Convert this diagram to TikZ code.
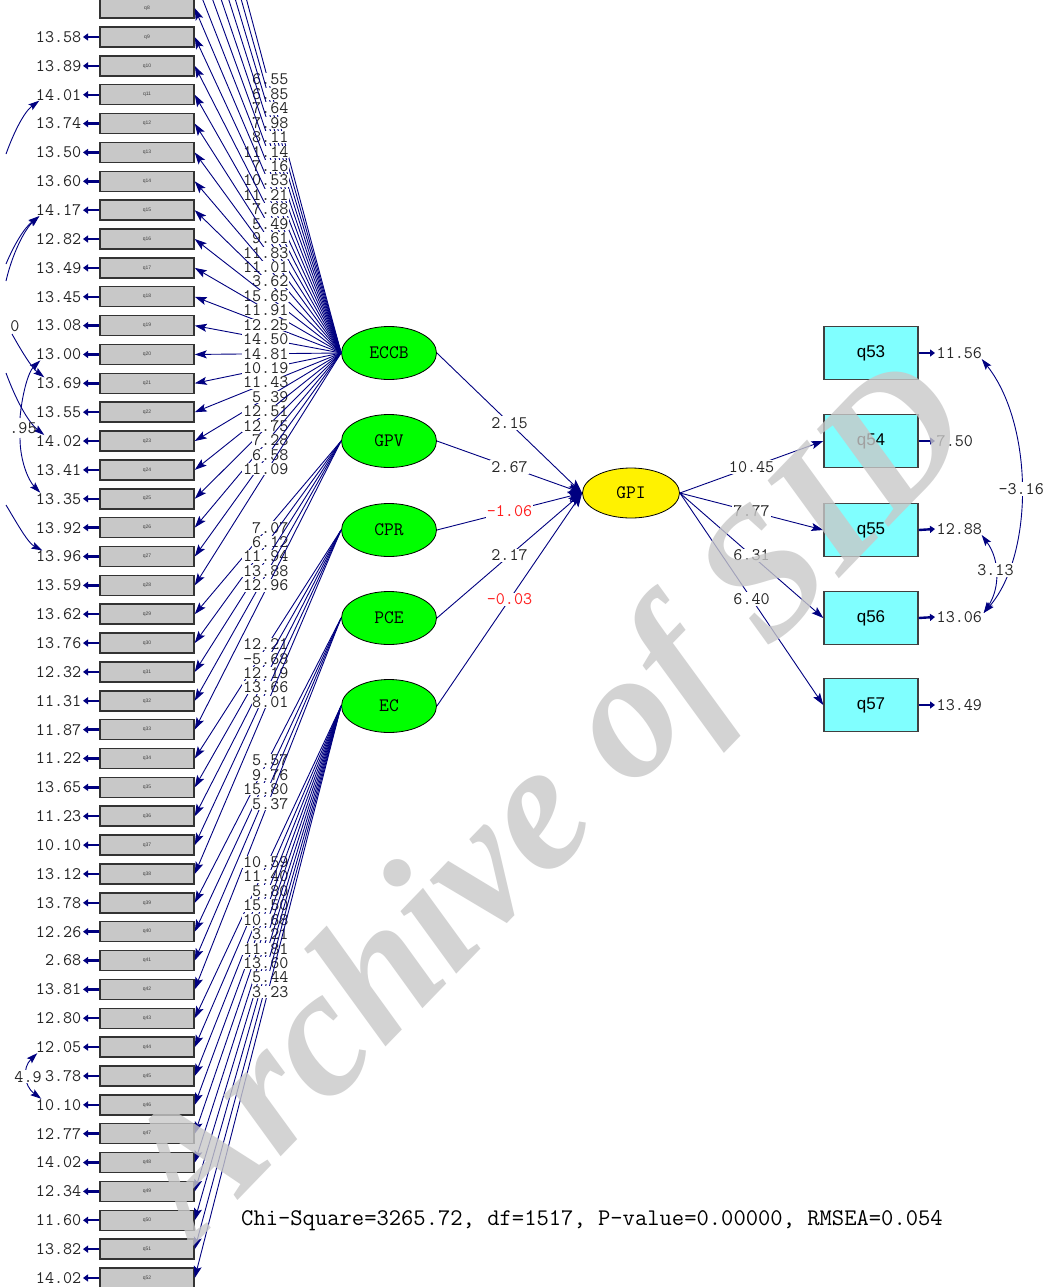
\documentclass[tikz,border=0pt]{standalone}
\usepackage{fontspec}
\setmainfont{Liberation Serif}
\setsansfont{Liberation Sans}
\usetikzlibrary{arrows.meta,shapes.geometric,calc}
\definecolor{navy}{RGB}{0,0,128}
\definecolor{boxgray}{RGB}{200,200,200}
\definecolor{lgreen}{RGB}{0,255,0}
\definecolor{cyanbox}{RGB}{128,255,255}
\definecolor{wmgray}{RGB}{200,200,200}
\definecolor{redval}{RGB}{255,30,30}
\begin{document}
\begin{tikzpicture}[x=1pt,y=-1pt,
  every node/.style={inner sep=0pt},
  obs/.style={draw=black!80, line width=1.5pt, fill=boxgray, minimum width=94pt, minimum height=20pt, inner sep=0pt, font=\fontsize{5}{5}\selectfont\sffamily, text=black!75},
  obsR/.style={draw=black!75, line width=1.4pt, fill=cyanbox, minimum width=94pt, minimum height=53pt, font=\fontsize{17}{17}\selectfont\sffamily},
  lat/.style={ellipse, draw=black, line width=0.8pt, fill=lgreen, minimum width=95pt, minimum height=53pt, font=\fontsize{19}{19}\selectfont\ttfamily},
  val/.style={font=\fontsize{17.6}{18}\selectfont\ttfamily, text=black!85},
  fan/.style={draw=navy, line width=0.9pt, -{Stealth[length=12pt,width=8pt,inset=2.5pt]}},
  flab/.style={val, fill=white, inner sep=0.6pt, anchor=east, xshift=21.5pt, pos=0.5},
  plab/.style={val, fill=white, inner sep=1pt, pos=0.5},
  gpath/.style={draw=navy, line width=0.9pt, -{Stealth[length=14pt,width=10pt,inset=3pt]}},
  errar/.style={draw=navy, line width=2.4pt, -{Triangle[length=5pt,width=7pt]}},
  cov/.style={draw=navy, line width=0.9pt},
  covtip/.style={-{Stealth[length=11pt,width=7pt,inset=2pt]}},
  covtips/.style={{Stealth[length=11pt,width=7pt,inset=2pt]}-{Stealth[length=11pt,width=7pt,inset=2pt]}}
]
\path[use as bounding box] (0,0) rectangle (1048,1287);
\clip (0,0) rectangle (1048,1287);
\fill[white] (0,0) rectangle (1048,1287);

% observed boxes (left)
\foreach \k in {1,...,52} {
  \node[obs] (q\k) at (147,{37+(\k-9)*28.86}) {q\k};
}

% error variances (left)
\foreach \k/\v in {9/13.58,10/13.89,11/14.01,12/13.74,13/13.50,14/13.60,15/14.17,16/12.82,17/13.49,18/13.45,19/13.08,20/13.00,21/13.69,22/13.55,23/14.02,24/13.41,25/13.35,26/13.92,27/13.96,28/13.59,29/13.62,30/13.76,31/12.32,32/11.31,33/11.87,34/11.22,35/13.65,36/11.23,37/10.10,38/13.12,39/13.78,40/12.26,41/2.68,42/13.81,43/12.80,44/12.05,46/10.10,47/12.77,48/14.02,49/12.34,50/11.60,51/13.82,52/14.02} {
  \node[val, anchor=east, inner sep=1.5pt] (e\k) at (83,{37+(\k-9)*28.86}) {\v};
  \draw[errar] (q\k.west) -- (e\k.east);
}

% latent variables
\node[lat] (ECCB) at (389,353) {ECCB};
\node[lat] (GPV) at (389,441) {GPV};
\node[lat] (CPR) at (389,530) {CPR};
\node[lat] (PCE) at (389,618) {PCE};
\node[lat] (EC) at (389,706) {EC};
\node[lat, fill=yellow, minimum width=97pt, minimum height=50pt] (GPI) at (631,493) {GPI};

% loadings
\foreach \k/\v in {1/6.55,2/6.85,3/7.64,4/7.98,5/8.11,6/11.14,7/7.16,8/10.53,9/11.21,10/7.68,11/5.49,12/9.61,13/11.83,14/11.01,15/3.62,16/15.65,17/11.91,18/12.25,19/14.50,20/14.81,21/10.19,22/11.43,23/5.39,24/12.51,25/12.75,26/7.28,27/6.58,28/11.09} {
  \draw[fan] (ECCB.west) -- (q\k.east) node[flab] {\v};
}
\foreach \k/\v in {29/7.07,30/6.12,31/11.94,32/13.88,33/12.96} {
  \draw[fan] (GPV.west) -- (q\k.east) node[flab] {\v};
}
\foreach \k/\v in {34/12.21,35/-5.68,36/12.19,37/13.66,38/8.01} {
  \draw[fan] (CPR.west) -- (q\k.east) node[flab] {\v};
}
\foreach \k/\v in {39/5.57,40/9.76,41/15.80,42/5.37} {
  \draw[fan] (PCE.west) -- (q\k.east) node[flab] {\v};
}
\foreach \k/\v in {43/10.59,44/11.40,45/5.80,46/15.50,47/10.68,48/3.21,49/11.81,50/13.60,51/5.44,52/3.23} {
  \draw[fan] (EC.west) -- (q\k.east) node[flab] {\v};
}

% structural paths
\draw[gpath] (ECCB.east) -- (GPI.west) node[plab] {2.15};
\draw[gpath] (GPV.east) -- (GPI.west) node[plab] {2.67};
\draw[gpath] (CPR.east) -- (GPI.west) node[plab, text=redval] {-1.06};
\draw[gpath] (PCE.east) -- (GPI.west) node[plab] {2.17};
\draw[gpath] (EC.east) -- (GPI.west) node[plab, text=redval] {-0.03};

% right observed
\node[obsR] (q53) at (871,353) {q53};
\node[obsR] (q54) at (871,441) {q54};
\node[obsR] (q55) at (871,530) {q55};
\node[obsR] (q56) at (871,618) {q56};
\node[obsR] (q57) at (871,705) {q57};

\draw[fan] (GPI.east) -- (q54.west) node[plab] {10.45};
\draw[fan] (GPI.east) -- (q55.west) node[plab] {7.77};
\draw[fan] (GPI.east) -- (q56.west) node[plab] {6.31};
\draw[fan] (GPI.east) -- (q57.west) node[plab] {6.40};

\foreach \k/\v in {53/11.56,54/7.50,55/12.88,56/13.06,57/13.49} {
  \node[val, anchor=west, inner sep=1.5pt] (e\k) at (935,{353+(\k-53)*88}) {\v};
  \draw[errar] (q\k.east) -- (e\k.west);
}

% right covariances
\draw[cov, covtips] ($(e53.east)+(-2,6)$) .. controls (1034,425) and (1034,555) .. ($(e56.east)+(0,-4)$) node[plab, pos=0.5] {-3.16};
\draw[cov, covtips] ($(e55.east)+(-2,6)$) .. controls (1000,560) and (1000,588) .. ($(e56.east)+(0,-4)$) node[plab, pos=0.45] {3.13};

% left covariances (partially visible)
\coordinate (a1) at (6,154);
\coordinate (a2) at (6,264);
\coordinate (a3) at (6,281);
\coordinate (a4) at (12,334);
\coordinate (a5) at (20,418);
\coordinate (a6) at (6,373);
\coordinate (a7) at (20,438);
\coordinate (a8) at (6,505);
\draw[cov, covtip] (a1) .. controls (14,132) and (24,112) .. ($(e11.west)+(5,6)$);
\draw[cov, covtip] (a2) .. controls (14,245) and (24,228) .. ($(e15.west)+(5,6)$);
\draw[cov, covtip] (a3) .. controls (12,255) and (24,230) .. ($(e15.west)+(5,6)$);
\draw[cov, covtip] (a4) .. controls (22,352) and (32,368) .. ($(e21.west)+(10,-6)$);
\draw[cov, covtip] (a5) .. controls (22,395) and (28,372) .. ($(e20.west)+(6,6)$);
\draw[cov, covtip] (a6) .. controls (16,400) and (28,422) .. ($(e23.west)+(10,-6)$);
\draw[cov, covtip] (a7) .. controls (20,460) and (28,480) .. ($(e25.west)+(6,-6)$);
\draw[cov, covtip] (a8) .. controls (18,525) and (28,543) .. ($(e27.west)+(8,-6)$);
\node[val] (z0) at (15,326) {0};
\node[val] (z95) at (23,428) {.95};

% q45 and its covariance
\node[val, anchor=east, inner sep=1.5pt] (e45) at (83,{37+(45-9)*28.86}) {3.78};
\draw[errar] (q45.west) -- (e45.east);
\draw[cov, covtips] ($(e44.west)+(3,6)$) .. controls (22,1068) and (24,1086) .. ($(e46.west)+(7,-6)$) node[plab, pos=0.5, anchor=east, xshift=16pt] {4.9};

% fit statistics
\node[font=\fontsize{23.9}{24}\selectfont\ttfamily, anchor=west] (chi) at (241,1221) {Chi-Square=3265.72, df=1517, P-value=0.00000, RMSEA=0.054};

% watermark
\node[rotate=46, text=wmgray, opacity=0.8, font=\fontsize{182}{182}\selectfont\bfseries\itshape] (wm) at (555,808) {Archive of SID};
\end{tikzpicture}
\end{document}
